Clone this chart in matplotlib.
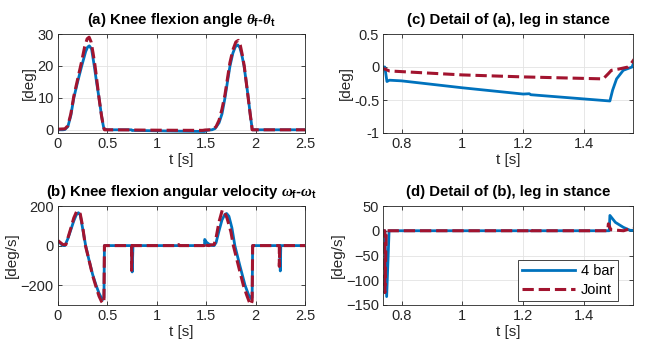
import numpy as np
import matplotlib
matplotlib.use("Agg")
import matplotlib.pyplot as plt

plt.rcParams["font.family"] = ["Liberation Sans", "DejaVu Sans"]
plt.rcParams["mathtext.fontset"] = "custom"
plt.rcParams["mathtext.rm"] = "Liberation Sans:bold"
plt.rcParams["mathtext.it"] = "Liberation Serif:bold:italic"
plt.rcParams["mathtext.bf"] = "Liberation Sans:bold"

BLUE = "#0072BD"
RED = "#A2142F"
DARK = "#262626"

# knee flexion angle [deg], 4 bar model
ang_bar_t = [0.00, 0.05, 0.07, 0.10, 0.13, 0.16, 0.20, 0.24, 0.28, 0.30, 0.317, 0.34,
             0.367, 0.39, 0.415, 0.44, 0.455, 0.465, 0.50, 0.745, 0.752, 0.76, 0.80,
             1.00, 1.20, 1.22, 1.225, 1.485, 1.494, 1.507, 1.529, 1.558, 1.59, 1.63,
             1.66, 1.69, 1.715, 1.741, 1.77, 1.795, 1.819, 1.84, 1.86, 1.883, 1.905,
             1.926, 1.945, 1.96, 1.967, 2.20, 2.50]
ang_bar = [0.0, 0.0, 0.1, 1.0, 4.5, 10.0, 15.2, 20.0, 24.5, 25.9, 26.3, 25.3,
           20.0, 15.0, 10.0, 4.5, 1.8, 0.3, 0.0, 0.0, -0.22, -0.20, -0.21,
           -0.315, -0.41, -0.405, -0.42, -0.515, -0.35, -0.18, -0.05, 0.0, 0.4, 2.2,
           5.0, 10.0, 15.0, 20.0, 24.0, 26.0, 26.6, 25.8, 23.5, 20.0, 15.0,
           10.0, 5.0, 1.5, 0.0, 0.0, 0.0]

# knee flexion angle [deg], joint model
ang_joint_t = [0.00, 0.07, 0.10, 0.13, 0.16, 0.20, 0.24, 0.27, 0.295, 0.315, 0.335,
               0.355, 0.375, 0.395, 0.415, 0.44, 0.46, 0.47, 0.50, 0.745, 0.76, 1.00,
               1.20, 1.463, 1.48, 1.49, 1.515, 1.545, 1.556, 1.57, 1.60, 1.63, 1.66,
               1.69, 1.715, 1.74, 1.77, 1.80, 1.825, 1.845, 1.865, 1.885, 1.905,
               1.925, 1.945, 1.96, 1.965, 2.20, 2.50]
ang_joint = [0.2, 0.3, 1.3, 5.0, 10.5, 16.0, 21.5, 26.0, 28.5, 29.0, 27.5,
             24.0, 20.0, 15.0, 10.0, 4.5, 1.0, 0.0, 0.0, -0.03, -0.06, -0.12,
             -0.15, -0.18, -0.10, -0.05, -0.03, 0.0, 0.06, 0.15, 1.0, 3.0, 6.5,
             11.0, 16.0, 21.0, 25.0, 27.5, 28.0, 26.5, 23.5, 20.0, 15.0,
             10.0, 5.0, 1.5, 0.0, 0.0, 0.0]

# knee flexion angular velocity [deg/s], 4 bar model
vel_bar_t = [0.00, 0.03, 0.055, 0.07, 0.10, 0.13, 0.16, 0.185, 0.206, 0.225, 0.25,
             0.28, 0.31, 0.35, 0.385, 0.415, 0.44, 0.455, 0.465, 0.47, 0.745, 0.751,
             0.759, 1.483, 1.485, 1.503, 1.529, 1.551, 1.58, 1.60, 1.63, 1.66, 1.69,
             1.707, 1.73, 1.76, 1.79, 1.84, 1.893, 1.93, 1.955, 1.965, 1.97, 2.245,
             2.25, 2.255, 2.50]
vel_bar = [22, 8, 0, 0, 35, 80, 125, 155, 166, 155, 85,
           0, -65, -145, -200, -240, -265, -272, -262, 0, 0, -133,
           0, 0, 31, 17, 7, 1, 0, 15, 75, 130, 158,
           162, 148, 90, 0, -100, -200, -250, -268, -262, 0, 0,
           -128, 0, 0]

# knee flexion angular velocity [deg/s], joint model
vel_joint_t = [0.00, 0.05, 0.08, 0.10, 0.13, 0.16, 0.19, 0.205, 0.225, 0.25, 0.275,
               0.31, 0.35, 0.38, 0.415, 0.44, 0.455, 0.465, 0.47, 0.745, 0.745,
               0.75, 1.218, 1.222, 1.226, 1.478, 1.48, 1.488, 1.53, 1.55, 1.56, 1.58,
               1.60, 1.63, 1.663, 1.68, 1.71, 1.75, 1.775, 1.83, 1.876, 1.91, 1.94,
               1.955, 1.965, 1.97, 2.24, 2.24, 2.245, 2.50]
vel_joint = [25, 5, 5, 38, 88, 140, 174, 174, 160, 95, 5,
             -65, -150, -200, -255, -282, -292, -282, 0, 0, -125,
             0, 0, 5, 0, 0, 14, 2, 0, 4, 4, 5,
             40, 120, 180, 175, 140, 70, 0, -110, -200, -250, -290,
             -298, -280, 0, 0, -105, 0, 0]

titles = [r"(a) Knee flexion angle $\theta_\mathrm{f}$-$\theta_\mathrm{t}$",
          r"(c) Detail of (a), leg in stance",
          r"(b) Knee flexion angular velocity $\omega_\mathrm{f}$-$\omega_\mathrm{t}$",
          r"(d) Detail of (b), leg in stance"]
ylabels = ["[deg]", "[deg]", "[deg/s]", "[deg/s]"]
full_xticks = [0, 0.5, 1, 1.5, 2, 2.5]
full_xlabels = ["0", "0.5", "1", "1.5", "2", "2.5"]
det_xticks = [0.8, 1.0, 1.2, 1.4]
det_xlabels = ["0.8", "1", "1.2", "1.4"]

fig = plt.figure(figsize=(6.48, 3.45), dpi=100)
W, H = 648, 345


def box(l, t, r, b):
    return [l / W, 1 - b / H, (r - l) / W, (b - t) / H]


ax_a = fig.add_axes(box(58, 34, 305, 133))
ax_c = fig.add_axes(box(383.3, 34, 632.7, 133))
ax_b = fig.add_axes(box(58, 206, 305, 305))
ax_d = fig.add_axes(box(383.3, 206, 632.7, 305))
axes = [ax_a, ax_c, ax_b, ax_d]

for ax in [ax_a, ax_c]:
    ax.plot(ang_bar_t, ang_bar, color=BLUE, lw=2.0, label="4 bar")
    ax.plot(ang_joint_t, ang_joint, color=RED, lw=2.2, ls="--", label="Joint")
for ax in [ax_b, ax_d]:
    ax.plot(vel_bar_t, vel_bar, color=BLUE, lw=2.0, label="4 bar")
    ax.plot(vel_joint_t, vel_joint, color=RED, lw=2.2, ls="--", label="Joint")

ax_a.set_xlim(0, 2.5)
ax_a.set_ylim(-1, 30)
ax_a.set_yticks([0, 10, 20, 30])
ax_b.set_xlim(0, 2.5)
ax_b.set_ylim(-300, 200)
ax_b.set_yticks([-200, 0, 200])
ax_c.set_xlim(0.74, 1.56)
ax_c.set_ylim(-1, 0.5)
ax_c.set_yticks([-1, -0.5, 0, 0.5])
ax_c.set_yticklabels(["-1", "-0.5", "0", "0.5"])
ax_d.set_xlim(0.74, 1.56)
ax_d.set_ylim(-150, 50)
ax_d.set_yticks([-150, -100, -50, 0, 50])

for ax in [ax_a, ax_b]:
    ax.set_xticks(full_xticks)
    ax.set_xticklabels(full_xlabels)
for ax in [ax_c, ax_d]:
    ax.set_xticks(det_xticks)
    ax.set_xticklabels(det_xlabels)

for ax, title, yl in zip(axes, titles, ylabels):
    ax.set_title(title, fontsize=10.8, fontweight="bold", pad=7)
    ax.set_ylabel(yl, fontsize=11, color=DARK, labelpad=1)
    ax.set_xlabel("t [s]", fontsize=11, color=DARK, labelpad=1)
    ax.grid(True, color="#e3e3e3", lw=0.6)
    ax.set_axisbelow(True)
    ax.tick_params(direction="in", length=3, width=0.6, labelsize=10.5,
                   colors=DARK, top=True, right=True, pad=3)
    for s in ax.spines.values():
        s.set_color(DARK)
        s.set_linewidth(0.6)

leg = ax_d.legend(loc="lower right", bbox_to_anchor=(0.943, 0.04), borderaxespad=0,
                  fontsize=10.5, handlelength=3.6, fancybox=False, edgecolor=DARK,
                  framealpha=1, borderpad=0.3, labelspacing=0.3, handletextpad=0.4)
leg.get_frame().set_linewidth(0.6)

fig.savefig("out.png", dpi=100)
